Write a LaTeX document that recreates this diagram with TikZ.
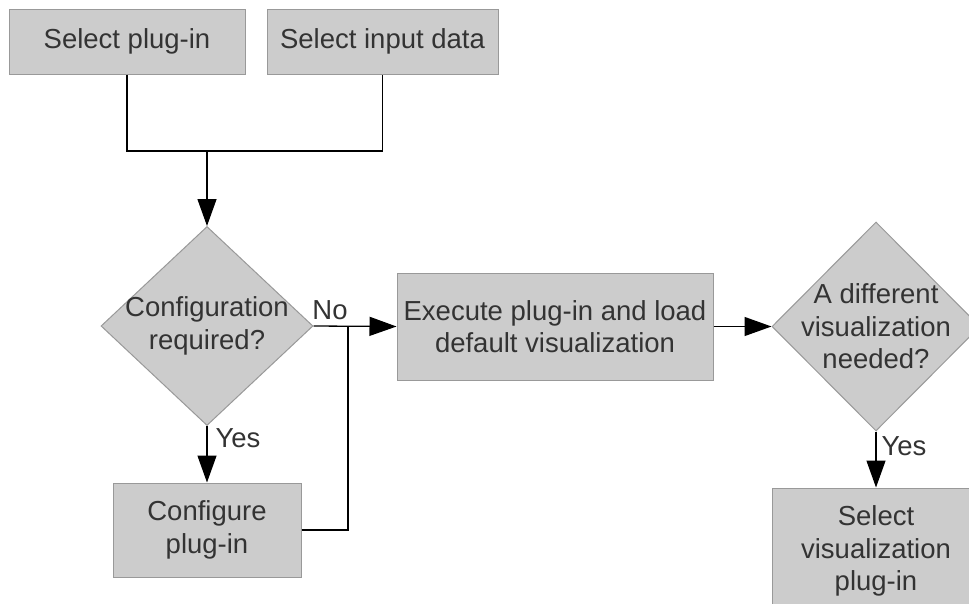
\documentclass[tikz,border=0pt]{standalone}
\usepackage{fontspec}
\setmainfont{Liberation Sans}
\usetikzlibrary{shapes.geometric,arrows.meta}
\definecolor{boxfill}{HTML}{CCCCCC}
\definecolor{boxline}{HTML}{999999}
\definecolor{ink}{HTML}{333333}
\tikzset{
  every node/.style={text=ink, font=\fontsize{27.5}{32.5}\selectfont},
  stepbox/.style={draw=boxline, fill=boxfill, line width=1pt, inner sep=0pt, align=center},
  decision/.style={diamond, draw=boxline, fill=boxfill, line width=1pt, inner sep=0pt, aspect=1},
  lbl/.style={align=center, inner sep=0pt},
  conn/.style={line width=1.3pt, black},
  flow/.style={conn, -{Triangle[length=27pt,width=19pt]}},
}
\begin{document}
\begin{tikzpicture}[x=1pt,y=-1pt]
  \clip (0,0) rectangle (969,603);
  \fill[white] (0,0) rectangle (969,603);

  % process boxes
  \node[stepbox, minimum width=236pt, minimum height=65pt] (sp) at (127,41.5) {Select plug-in};
  \node[stepbox, minimum width=231pt, minimum height=65pt] (sid) at (382.5,41.5) {Select input data};
  \node[stepbox, minimum width=316pt, minimum height=107pt] (ex) at (555,326.5) {Execute plug-in and load\\default visualization};
  \node[stepbox, minimum width=188pt, minimum height=94pt] (cp) at (207,530) {Configure\\plug-in};
  \node[stepbox, minimum width=208pt, minimum height=126pt] (sv) at (876,551) {Select\\visualization\\plug-in};

  % decisions
  \node[decision, minimum width=212pt, minimum height=199pt,
        label={[lbl]center:Configuration\\required?}] (d1) at (207,326) {};
  \node[decision, minimum width=208pt, minimum height=209pt,
        label={[lbl]center:A different\\visualization\\needed?}] (d2) at (876,326.5) {};

  % junction points
  \coordinate (j1) at (207,151);
  \coordinate (j2) at (348,326.5);

  % merge of the two inputs
  \draw[conn] (sp.south) |- (j1) -| (sid.south);
  \draw[flow] (j1) -- (d1.north);

  % decision branches
  \draw[flow] (d1.east) -- (ex.west);
  \draw[flow] (d1.south) -- (cp.north);
  \draw[conn] (cp.east) -| (j2);
  \draw[flow] (ex.east) -- (d2.west);
  \draw[flow] (d2.south) -- (sv.north);

  % branch labels
  \node[lbl] (no1) at (330,310) {No};
  \node[lbl] (yes1) at (238,438) {Yes};
  \node[lbl] (yes2) at (904,446) {Yes};
\end{tikzpicture}
\end{document}
